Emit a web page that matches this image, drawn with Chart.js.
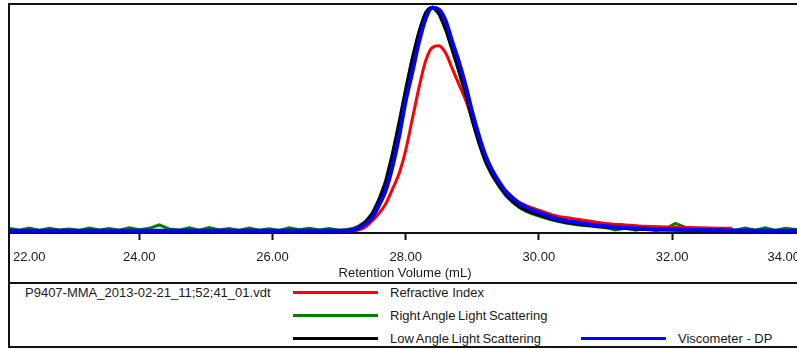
<!DOCTYPE html>
<html>
<head>
<meta charset="utf-8">
<title>Cromatograma GPC</title>
<script src="https://cdn.jsdelivr.net/npm/chart.js@4.4.1/dist/chart.umd.min.js"></script>
<style>
  body { margin: 0; width: 797px; height: 350px; overflow: hidden; background: #fff;
         font-family: "Liberation Sans", Arial, sans-serif; color: #1a1a1a; }
  #marco { position: absolute; left: 8px; top: 3px; width: 830px; height: 341px; border: 2px solid #111; }
  #grafica-box { position: absolute; left: 0; top: 0; width: 790px; height: 277px; }
  #leyenda { position: absolute; left: 0; top: 277px; width: 100%; height: 62px; border-top: 2px solid #111; }
  .texto { position: absolute; font-size: 13px; line-height: 15px; white-space: nowrap; }
  .junto { word-spacing: -1px; }
  .linea { position: absolute; width: 85px; height: 3px; }
</style>
</head>
<body>
<div id="marco">
  <div id="grafica-box"><canvas id="grafica"></canvas></div>
  <div id="leyenda">
    <div class="texto" style="left:15px; top:1px;">P9407-MMA_2013-02-21_11;52;41_01.vdt</div>
    <div class="linea" style="left:283px; top:7px; background:#ff0000;"></div>
    <div class="texto" style="left:380px; top:1px;">Refractive Index</div>
    <div class="linea" style="left:283px; top:29.5px; background:#008000;"></div>
    <div class="texto junto" style="left:380px; top:23.5px;">Right Angle Light Scattering</div>
    <div class="linea" style="left:283px; top:52.5px; background:#000000;"></div>
    <div class="texto junto" style="left:380px; top:46.5px;">Low Angle Light Scattering</div>
    <div class="linea" style="left:571px; top:52.5px; background:#0000ff;"></div>
    <div class="texto" style="left:668px; top:46.5px;">Viscometer - DP</div>
  </div>
</div>

<script>
const tickValues = [22, 24, 26, 28, 30, 32, 34];
const axisTitle = 'Retention Volume (mL)';

const volume = [22.06, 23.0, 24.0, 25.0, 26.0, 26.8, 27.0, 27.1, 27.2, 27.3, 27.4, 27.5, 27.6, 27.7,
  27.8, 27.9, 28.0, 28.1, 28.2, 28.3, 28.4, 28.5, 28.6, 28.7, 28.8, 28.9, 29.0, 29.1, 29.2, 29.3,
  29.4, 29.5, 29.6, 29.7, 29.8, 29.9, 30.0, 30.2, 30.4, 30.6, 30.8, 31.0, 31.3, 31.6, 32.0, 32.4,
  32.9, 33.4, 33.92];

const viscometerDP = [0, 0, 0, 0, 0, 0, 0, 0, 0.3, 1.2, 3.0, 6.0, 11.5, 18,
  28.5, 42, 58, 71, 84.5, 95, 99.8, 99, 94, 84.5, 75.5, 65, 53, 42.5, 33.5, 27,
  22, 17.7, 14.8, 12.4, 10.6, 9.3, 8.2, 6.0, 4.5, 3.6, 2.7, 2.0, 1.3, 0.9, 0.6, 0.3,
  0.1, 0, 0];

const lowAngleLS = [0, 0, 0, 0, 0, 0, 0, 0.2, 0.6, 1.8, 4.0, 7.8, 14, 22,
  34, 48, 63, 77, 89, 97.5, 100, 97, 90, 81, 71.5, 61, 49.5, 39.5, 31, 25,
  20.3, 16.3, 13.2, 10.9, 9.2, 8.0, 7.0, 5.1, 3.8, 2.9, 2.2, 1.6, 1.0, 0.6, 0.3, 0.1,
  0, 0, 0];

const refractiveIndex = [0, 0, 0, 0, 0, 0, 0, 0, 0, 0.4, 1.8, 4.5, 7.8, 12,
  18.5, 25.5, 36, 50, 64, 76, 82, 82.8, 79.5, 72.5, 65.5, 58.5, 50, 41, 33, 27,
  21.8, 18, 15.2, 12.9, 11.4, 10.2, 9.2, 7.1, 5.9, 5.0, 4.1, 3.3, 2.6, 2.0, 1.6, 1.3,
  1.1, null, null];

// El detector de angulo recto tiene ruido en la linea base: serie propia
const rightAngleVolume = [22.06, 22.2, 22.35, 22.5, 22.65, 22.8, 22.95, 23.1, 23.25, 23.4, 23.55,
  23.7, 23.85, 24.0, 24.15, 24.3, 24.45, 24.6, 24.75, 24.9, 25.05, 25.2, 25.35, 25.5, 25.65, 25.8,
  25.95, 26.1, 26.25, 26.4, 26.55, 26.7, 26.85, 27.0,
  27.1, 27.2, 27.3, 27.4, 27.5, 27.6, 27.7, 27.8, 27.9, 28.0,
  28.1, 28.2, 28.3, 28.4, 28.5, 28.6, 28.7, 28.8, 28.9, 29.0,
  29.1, 29.2, 29.3, 29.4, 29.5, 29.6, 29.7, 29.8, 29.9, 30.0,
  30.2, 30.4, 30.6, 30.8, 31.0,
  31.15, 31.3, 31.45, 31.6, 31.75, 31.9, 32.05, 32.2, 32.35, 32.5, 32.65, 32.8, 32.95, 33.1,
  33.25, 33.4, 33.55, 33.7, 33.92];

const rightAngleLS = [1.0, 0.2, 1.2, 0.1, 1.1, 0.3, 0.8, 0.1, 1.2, 0.4, 1.0,
  0.2, 1.3, 0.5, 1.1, 2.6, 0.8, 0.3, 1.3, 0.2, 1.4, 0.4, 1.0, 0.1, 1.2, 0.2,
  0.9, 0.1, 1.3, 0.5, 1.1, 0.3, 1.0, 0.2,
  0.5, 1.0, 2.2, 4.3, 8.0, 14.2, 22.5, 34.5, 48.5, 63.5,
  77.5, 89, 97.5, 100, 97, 90, 80.5, 71, 60.5, 49,
  39, 30.5, 24.5, 19.8, 15.8, 12.8, 10.5, 8.8, 7.6, 6.6,
  4.8, 3.5, 2.6, 2.0, 1.4,
  0.4, 1.2, 0.2, 1.0, 0.1, 0.9, 3.3, 1.5, 0.1, 1.1, 0.1, 1.0, 0.2, 1.2,
  0.2, 1.3, 0.1, 1.1, 0.3];

function puntos(xs, ys) {
  return xs.map((v, i) => ({ x: v, y: ys[i] })).filter(p => p.y !== null);
}

// Etiquetas del eje X y titulo, dibujadas con la escala de Chart.js
const ejeX = {
  id: 'ejeX',
  afterDraw(chart) {
    const { ctx, chartArea } = chart;
    const x = chart.scales.x;
    ctx.save();
    ctx.font = '13px "Liberation Sans", Arial, sans-serif';
    ctx.fillStyle = '#1a1a1a';
    ctx.textBaseline = 'middle';
    ctx.textAlign = 'left';
    tickValues.forEach(v => {
      const label = v.toFixed(2);
      const w = ctx.measureText(label).width;
      let left = x.getPixelForValue(v) - w / 2;
      left = Math.max(3, Math.min(left, chart.width - w));
      ctx.fillText(label, left, chartArea.bottom + 24);
    });
    ctx.textAlign = 'center';
    ctx.fillText(axisTitle, (chartArea.left + chartArea.right) / 2, chartArea.bottom + 40);
    ctx.restore();
  }
};

function crearGrafica() {
  const ctx = document.getElementById('grafica');

  new Chart(ctx, {
    type: 'line',
    data: {
      datasets: [
        { label: 'Viscometer - DP', data: puntos(volume, viscometerDP), borderColor: '#0000ff', borderWidth: 4 },
        { label: 'Low Angle Light Scattering', data: puntos(volume, lowAngleLS), borderColor: '#000000', borderWidth: 3 },
        { label: 'Refractive Index', data: puntos(volume, refractiveIndex), borderColor: '#ff0000', borderWidth: 3 },
        { label: 'Right Angle Light Scattering', data: puntos(rightAngleVolume, rightAngleLS), borderColor: '#008000',
          borderWidth: 3, cubicInterpolationMode: 'default', tension: 0 }
      ]
    },
    options: {
      responsive: true,
      maintainAspectRatio: false,
      animation: false,
      layout: { padding: { top: 0, left: 0, right: 0, bottom: 42 } },
      elements: {
        point: { radius: 0 },
        line: { cubicInterpolationMode: 'monotone', fill: false }
      },
      plugins: {
        legend: { display: false },
        tooltip: { enabled: false },
        title: { display: false }
      },
      scales: {
        x: {
          type: 'linear',
          min: 22.06,
          max: 33.92,
          ticks: { display: false, stepSize: 2, includeBounds: false },
          grid: { drawOnChartArea: false, drawTicks: true, tickLength: 7, tickWidth: 2, tickColor: '#111' },
          border: { display: true, color: '#111', width: 2 }
        },
        y: {
          display: false,
          min: -1,
          max: 101
        }
      }
    },
    plugins: [ejeX]
  });
}

document.addEventListener('DOMContentLoaded', crearGrafica);
</script>
</body>
</html>
